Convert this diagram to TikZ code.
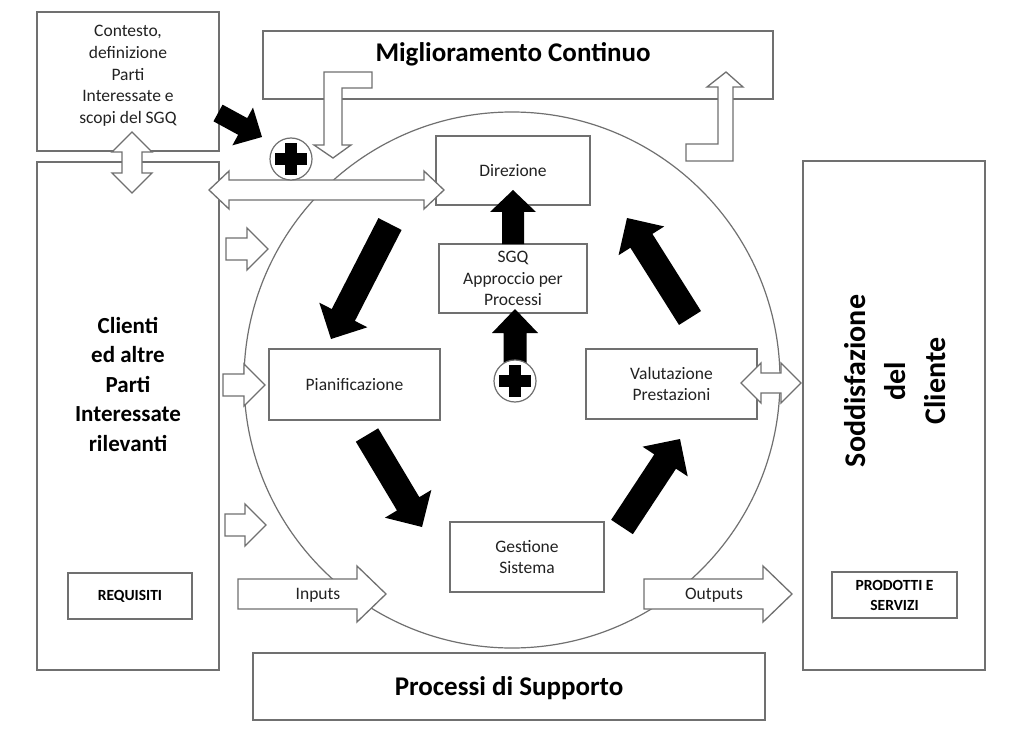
\documentclass[tikz,border=0pt]{standalone}
\usepackage{fontspec}
\setmainfont{Carlito}
\usetikzlibrary{calc}
\definecolor{lg}{HTML}{707070}
\definecolor{txtc}{HTML}{222222}
\tikzset{
 ln/.style={draw=lg, line width=1.3pt},
 box/.style={ln, fill=white, rectangle, inner sep=0pt, align=center, font=\fontsize{17.5}{21.7}\selectfont, text=txtc},
 wh/.style 2 args={minimum width=#1pt, minimum height=#2pt},
 txt/.style={align=center, inner sep=0pt, font=\fontsize{17.5}{21.7}\selectfont, text=txtc},
 title/.style={inner sep=0pt, font=\bfseries\fontsize{27}{33}\selectfont},
 bigtxt/.style={align=center, inner sep=0pt, font=\bfseries\fontsize{23}{29.5}\selectfont},
 sodtxt/.style={align=center, inner sep=0pt, font=\bfseries\fontsize{30}{40}\selectfont},
 smallb/.style={font=\bfseries\fontsize{15.5}{20}\selectfont, text=black},
 warr/.style={draw=lg, line width=1.3pt, fill=white, line join=miter},
 barr/.style={fill=black},
 bigcirc/.style={circle, draw=lg, line width=1.2pt, minimum size=536pt, inner sep=0pt},
 pc/.style={circle, draw=lg, line width=1.2pt, fill=white, minimum size=42pt, inner sep=0pt}
}
% single block arrow: style, tail, tip, half shaft, half head, head length
\newcommand\mysarrow[6]{%
 \coordinate (hb) at ($(#3)!#6pt!(#2)$);
 \path[#1] ($(#2)!#4pt!90:(#3)$) -- ($(hb)!#4pt!90:(#3)$) -- ($(hb)!#5pt!90:(#3)$) -- (#3)
   -- ($(hb)!#5pt!-90:(#3)$) -- ($(hb)!#4pt!-90:(#3)$) -- ($(#2)!#4pt!-90:(#3)$) -- cycle;}
% double block arrow: style, A, B, half shaft, half head, head length
\newcommand\mydarrow[6]{%
 \coordinate (ha) at ($(#2)!#6pt!(#3)$);
 \coordinate (hb) at ($(#3)!#6pt!(#2)$);
 \path[#1] (#2) -- ($(ha)!#5pt!90:(#3)$) -- ($(ha)!#4pt!90:(#3)$) -- ($(hb)!#4pt!90:(#3)$)
   -- ($(hb)!#5pt!90:(#3)$) -- (#3) -- ($(hb)!#5pt!-90:(#3)$) -- ($(hb)!#4pt!-90:(#3)$)
   -- ($(ha)!#4pt!-90:(#3)$) -- ($(ha)!#5pt!-90:(#3)$) -- cycle;}
\newcommand\myplus[1]{%
 \fill[black] ($(#1)+(-16,-6)$) rectangle ($(#1)+(16,6)$);
 \fill[black] ($(#1)+(-6,-16)$) rectangle ($(#1)+(6,16)$);}
\begin{document}
\begin{tikzpicture}[x=1pt,y=-1pt]
\useasboundingbox (0,0) rectangle (1024,735);
\fill[white] (0,0) rectangle (1024,735);
% big circle
\node[bigcirc] (cyc) at (512,380) {};
% outer boxes
\node[box, wh={182}{139}] (ctx) at (128,81.5) {};
\node[txt] (ctxt) at (128,76) {Contesto,\\definizione\\Parti\\Interessate e\\scopi del SGQ};
\node[box, wh={182}{508}] (cli) at (128,416) {};
\node[bigtxt] (clit) at (128,384) {Clienti\\ed altre\\Parti\\Interessate\\rilevanti};
\node[box, wh={124}{46}, smallb] (req) at (130,596) {REQUISITI};
\node[box, wh={510}{68}] (mig) at (518,65) {};
\node[title] (migt) at (513,54) {Miglioramento Continuo};
\node[box, wh={512}{67}] (sup) at (509,686.5) {};
\node[title] (supt) at (509,688) {Processi di Supporto};
\node[box, wh={182}{509}] (sod) at (894,415.5) {};
\node[sodtxt, rotate=90] (sodt) at (895,381) {Soddisfazione\\del\\Cliente};
\node[box, wh={125}{46}, smallb, font=\bfseries\fontsize{15.5}{20}\selectfont] (prod) at (894.5,595) {PRODOTTI E\\SERVIZI};
% inner boxes
\node[box, wh={154}{69}] (dir) at (513,170.5) {Direzione};
\node[box, wh={148}{69}] (sgq) at (513,278.5) {SGQ\\Approccio per\\Processi};
\node[box, wh={171}{71}] (pia) at (354.5,384.5) {Pianificazione};
\node[box, wh={171}{70}] (val) at (671.5,384) {Valutazione\\Prestazioni};
\node[box, wh={154}{70}] (ges) at (527,557) {Gestione\\Sistema};
% white arrows
\coordinate (vd1) at (132,132); \coordinate (vd2) at (132,193);
\mydarrow{warr}{vd1}{vd2}{10}{20}{20}
\coordinate (hd1) at (209,190); \coordinate (hd2) at (444,190);
\mydarrow{warr}{hd1}{hd2}{10}{19}{20}
\coordinate (s1a) at (226,249); \coordinate (s1b) at (268,249);
\mysarrow{warr}{s1a}{s1b}{11}{21}{21}
\coordinate (s2a) at (223,385); \coordinate (s2b) at (265,385);
\mysarrow{warr}{s2a}{s2b}{11}{21}{21}
\coordinate (s3a) at (225,525); \coordinate (s3b) at (266,525);
\mysarrow{warr}{s3a}{s3b}{11}{21}{21}
\coordinate (ina) at (238,594); \coordinate (inb) at (386,594);
\mysarrow{warr}{ina}{inb}{15}{28}{29}
\coordinate (outa) at (644,594); \coordinate (outb) at (792,594);
\mysarrow{warr}{outa}{outb}{15}{28}{29}
\node[txt] (inl) at (318,595) {Inputs};
\node[txt] (outl) at (714,595) {Outputs};
\coordinate (rd1) at (741,383); \coordinate (rd2) at (801,383);
\mydarrow{warr}{rd1}{rd2}{10}{20}{20}
% L-shaped arrows
\path[warr] (324,72) -- (372,72) -- (372,88) -- (342,88) -- (342,145) -- (351,145)
  -- (333,158) -- (314,145) -- (324,145) -- cycle;
\path[warr] (686,161) -- (733,161) -- (733,87) -- (743,87) -- (726,72) -- (707,87)
  -- (718,87) -- (718,144) -- (686,144) -- cycle;
% black arrows
\coordinate (a1t) at (218,113); \coordinate (a1h) at (262,137);
\mysarrow{barr}{a1t}{a1h}{9.5}{21.5}{22}
\coordinate (a2t) at (390,224); \coordinate (a2h) at (331,339);
\mysarrow{barr}{a2t}{a2h}{13}{27}{27}
\coordinate (a3t) at (367,435); \coordinate (a3h) at (422,527);
\mysarrow{barr}{a3t}{a3h}{13}{27}{27}
\coordinate (a4t) at (622,527); \coordinate (a4h) at (680,439);
\mysarrow{barr}{a4t}{a4h}{13}{27}{27}
\coordinate (a5t) at (690,318); \coordinate (a5h) at (627,218);
\mysarrow{barr}{a5t}{a5h}{13}{27}{27}
\coordinate (a6t) at (513,244); \coordinate (a6h) at (513,190);
\mysarrow{barr}{a6t}{a6h}{11}{23}{22}
\coordinate (a7t) at (515,381); \coordinate (a7h) at (515,309);
\mysarrow{barr}{a7t}{a7h}{11.5}{23}{24}
% plus circles
\node[pc] (p1) at (291,159) {};
\myplus{p1}
\node[pc] (p2) at (515,381) {};
\myplus{p2}
\end{tikzpicture}
\end{document}
